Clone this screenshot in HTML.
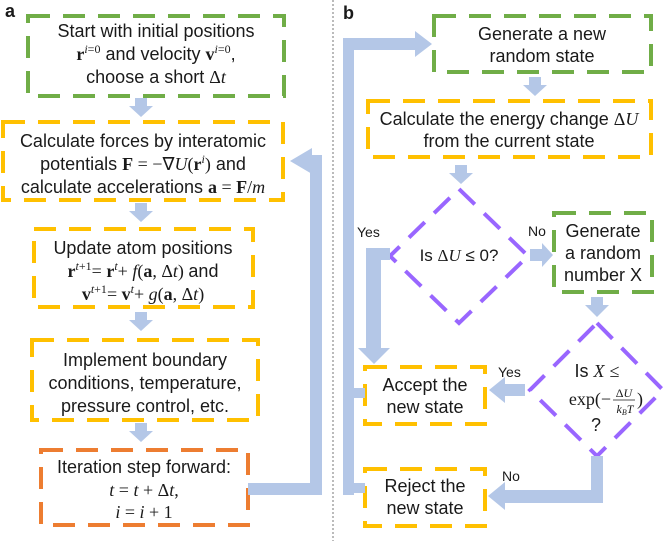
<!DOCTYPE html>
<html><head><meta charset="utf-8"><style>
html,body{margin:0;padding:0;background:#fff;}
svg{display:block;}
text{font-family:"Liberation Sans",sans-serif;font-size:18px;fill:#1a1a1a;}
.m{font-family:"Liberation Serif",serif;}
</style></head><body>
<svg width="666" height="541" viewBox="0 0 666 541" xmlns="http://www.w3.org/2000/svg">
<g fill="none" stroke-width="4" stroke-dasharray="22 13">
<rect x="28" y="16" width="256" height="80" stroke="#70ad47"/>
<rect x="3" y="122" width="280" height="78" stroke="#ffc000"/>
<rect x="34" y="229" width="219" height="78" stroke="#ffc000"/>
<rect x="32" y="340" width="226" height="80" stroke="#ffc000"/>
<rect x="41" y="450" width="207" height="75" stroke="#ed7d31"/>
<rect x="434" y="16" width="217" height="56" stroke="#70ad47"/>
<rect x="368" y="101" width="283" height="56" stroke="#ffc000"/>
<rect x="554" y="213" width="98" height="79" stroke="#70ad47"/>
<rect x="365" y="367" width="120" height="57" stroke="#ffc000"/>
<rect x="365" y="469" width="120" height="57" stroke="#ffc000"/>
<polygon points="459,189 528,256 459,323 390,256" stroke="#9966ff"/>
<polygon points="597,323 663,390 597,456 530,390" stroke="#9966ff"/>
</g>
<line x1="333" y1="0" x2="333" y2="541" stroke="#bbb" stroke-width="2" stroke-dasharray="2 2"/>
<g fill="#b4c7e7">
<polygon points="135,98 147,98 147,106 153,106 141,117 129,106 135,106"/>
<polygon points="135,203 147,203 147,211 153,211 141,222 129,211 135,211"/>
<polygon points="135,312 147,312 147,320 153,320 141,331 129,320 135,320"/>
<polygon points="135,423 147,423 147,431 153,431 141,442 129,431 135,431"/>
<rect x="248" y="483" width="74" height="12"/>
<rect x="310" y="155" width="12" height="340"/>
<polygon points="312,148 312,174 290,161"/>
<polygon points="529,77 541,77 541,85 547,85 535,96 523,85 529,85"/>
<polygon points="455,165 467,165 467,173 473,173 461,184 449,173 455,173"/>
<polygon points="591,297 603,297 603,305 609,305 597,317 585,305 591,305"/>
<polygon points="343,38 415,38 415,31 432,44 415,57 415,50 354,50 354,495 343,495"/>
<rect x="354" y="388" width="11" height="10"/>
<rect x="354" y="483" width="11" height="10"/>
<polygon points="366,248 390,248 390,260 381,260 381,348 390,348 374,364 358,348 366,348"/>
<polygon points="530,249 542,249 542,243 553,255 542,267 542,261 530,261"/>
<polygon points="525,384 505,384 505,377 489,390 505,403 505,396 525,396"/>
<polygon points="591,456 603,456 603,503 505,503 505,510 488,496 505,482 505,490 591,490"/>
</g>
<g font-weight="bold"><text x="5" y="17">a</text><text x="343" y="19">b</text></g>
<g text-anchor="middle">
<text x="156" y="37">Start with initial positions</text>
<text x="156" y="60"><tspan class="m" font-weight="bold">r</tspan><tspan class="m" font-size="12" dy="-7" font-style="italic">i</tspan><tspan class="m" font-size="12">=0</tspan><tspan dy="7">  and velocity </tspan><tspan class="m" font-weight="bold">v</tspan><tspan class="m" font-size="12" dy="-7" font-style="italic">i</tspan><tspan class="m" font-size="12">=0</tspan><tspan dy="7">,</tspan></text>
<text x="156" y="83">choose a short <tspan class="m">Δ<tspan font-style="italic">t</tspan></tspan></text>
<text x="143" y="147">Calculate forces by interatomic</text>
<text x="143" y="170">potentials <tspan class="m"><tspan font-weight="bold">F</tspan> = −∇<tspan font-style="italic">U</tspan>(<tspan font-weight="bold">r</tspan><tspan font-size="12" dy="-7" font-style="italic">i</tspan><tspan dy="7">)</tspan></tspan> and</text>
<text x="143" y="193">calculate accelerations <tspan class="m"><tspan font-weight="bold">a</tspan> = <tspan font-weight="bold">F</tspan>/<tspan font-style="italic">m</tspan></tspan></text>
<text x="143" y="254">Update atom positions</text>
<text x="143" y="277" class="m"><tspan font-weight="bold">r</tspan><tspan font-size="12" dy="-7" font-style="italic">t</tspan><tspan font-size="12">+1</tspan><tspan dy="7">= </tspan><tspan font-weight="bold">r</tspan><tspan font-size="12" dy="-7" font-style="italic">t</tspan><tspan dy="7">+ </tspan><tspan font-style="italic">f</tspan>(<tspan font-weight="bold">a</tspan>, Δ<tspan font-style="italic">t</tspan>) <tspan font-family="Liberation Sans">and</tspan></text>
<text x="143" y="300" class="m"><tspan font-weight="bold">v</tspan><tspan font-size="12" dy="-7" font-style="italic">t</tspan><tspan font-size="12">+1</tspan><tspan dy="7">= </tspan><tspan font-weight="bold">v</tspan><tspan font-size="12" dy="-7" font-style="italic">t</tspan><tspan dy="7">+ </tspan><tspan font-style="italic">g</tspan>(<tspan font-weight="bold">a</tspan>, Δ<tspan font-style="italic">t</tspan>)</text>
<text x="145" y="366">Implement boundary</text>
<text x="145" y="389">conditions, temperature,</text>
<text x="145" y="412">pressure control, etc.</text>
<text x="144" y="473">Iteration step forward:</text>
<text x="144" y="496" class="m" font-style="italic">t <tspan font-style="normal">=</tspan> t <tspan font-style="normal">+ Δ</tspan>t<tspan font-style="normal">,</tspan></text>
<text x="144" y="518" class="m" font-style="italic">i <tspan font-style="normal">=</tspan> i <tspan font-style="normal">+ 1</tspan></text>
<text x="542" y="40">Generate a new</text>
<text x="542" y="62">random state</text>
<text x="509" y="125">Calculate the energy change <tspan class="m">Δ<tspan font-style="italic">U</tspan></tspan></text>
<text x="509" y="147">from the current state</text>
<text x="459" y="261" style="font-size:17px">Is <tspan class="m">Δ<tspan font-style="italic">U</tspan></tspan> ≤ 0?</text>
<text x="603" y="237">Generate</text>
<text x="603" y="259">a random</text>
<text x="603" y="281">number X</text>
<text x="425" y="391">Accept the</text>
<text x="425" y="413">new state</text>
<text x="425" y="492">Reject the</text>
<text x="425" y="514">new state</text>
<text x="597" y="377">Is <tspan class="m" font-style="italic">X</tspan> <tspan class="m">≤</tspan></text>
<text x="590" y="405" class="m">exp(−</text>
<text x="624" y="397" class="m" font-size="11" style="font-size:12px">Δ<tspan font-style="italic">U</tspan></text>
<line x1="613" y1="400" x2="635" y2="400" stroke="#1a1a1a" stroke-width="0.8"/>
<text x="625" y="413" class="m" font-style="italic" style="font-size:12px">k<tspan style="font-size:8px" dy="2">B</tspan><tspan dy="-2">T</tspan></text>
<text x="640" y="405" class="m">)</text>
<text x="596" y="431">?</text>
</g>
<text x="357" y="237" style="font-size:14px">Yes</text>
<text x="528" y="236" style="font-size:14px">No</text>
<text x="498" y="377" style="font-size:14px">Yes</text>
<text x="502" y="481" style="font-size:14px">No</text>
</svg>
</body></html>
